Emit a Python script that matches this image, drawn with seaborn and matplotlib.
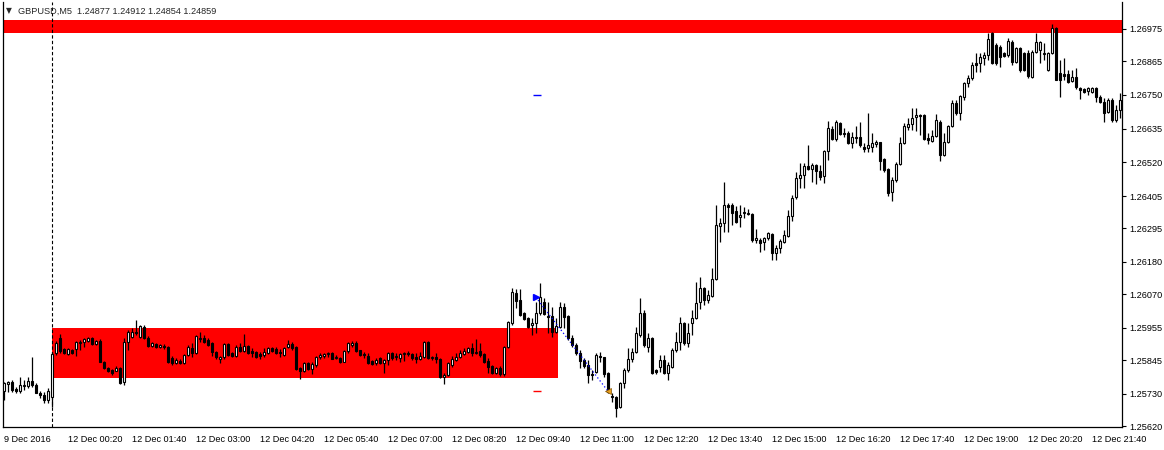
import pandas as pd
import matplotlib
matplotlib.use('Agg')
import matplotlib.pyplot as plt
import seaborn as sns

# GBPUSD M5 candles, prices in points (1 point = 0.00001)
POINT = 1e-5

opens_pts = [
    125740, 125763, 125770, 125746, 125740, 125757, 125757, 125774, 125760, 125733,
    125726, 125709, 125719, 125869, 125921, 125883, 125865, 125879, 125883, 125904,
    125907, 125911, 125921, 125900, 125911, 125838, 125818, 125811, 125808, 125818,
    125770, 125907, 125924, 125941, 125924, 125958, 125921, 125893, 125900, 125890,
    125893, 125890, 125852, 125835, 125842, 125835, 125862, 125887, 125869, 125917,
    125921, 125914, 125904, 125872, 125848, 125855, 125900, 125869, 125859, 125890,
    125876, 125893, 125876, 125872, 125865, 125862, 125869, 125887, 125883, 125872,
    125862, 125890, 125900, 125890, 125818, 125808, 125835, 125814, 125828, 125855,
    125859, 125865, 125869, 125852, 125852, 125838, 125876, 125897, 125904, 125879,
    125865, 125859, 125842, 125835, 125852, 125835, 125845, 125869, 125855, 125852,
    125865, 125869, 125865, 125855, 125848, 125855, 125907, 125852, 125855, 125848,
    125787, 125794, 125828, 125845, 125855, 125865, 125872, 125887, 125869, 125876,
    125865, 125842, 125825, 125801, 125818, 125797, 125890, 125972, 126074, 126050,
    126006, 125989, 125965, 125972, 126006, 126043, 125996, 125996, 125941, 125958,
    126026, 125996, 125921, 125897, 125869, 125845, 125828, 125797, 125804, 125859,
    125855, 125801, 125723, 125719, 125685, 125767, 125811, 125848, 125872, 125931,
    126006, 125890, 125921, 125811, 125821, 125845, 125801, 125821, 125879, 125907,
    125972, 125904, 125972, 125989, 126043, 126091, 126050, 126064, 126121, 126303,
    126313, 126374, 126374, 126354, 126333, 126347, 126343, 126343, 126255, 126255,
    126248, 126262, 126275, 126211, 126228, 126248, 126268, 126337, 126402, 126467,
    126477, 126508, 126497, 126511, 126491, 126474, 126559, 126634, 126599, 126654,
    126620, 126620, 126586, 126606, 126606, 126572, 126569, 126572, 126582, 126589,
    126531, 126497, 126419, 126460, 126514, 126586, 126640, 126651, 126674, 126681,
    126681, 126603, 126593, 126610, 126657, 126545, 126589, 126644, 126723, 126688,
    126743, 126791, 126808, 126859, 126859, 126876, 126886, 126961, 126920, 126913,
    126893, 126886, 126930, 126862, 126910, 126893, 126893, 126811, 126896, 126903,
    126889, 126835, 126893, 126978, 126825, 126821, 126821, 126798, 126811, 126774,
    126770, 126763, 126760, 126774, 126743, 126726, 126691, 126733, 126664, 126699,
]

highs_pts = [
    125770, 125774, 125777, 125753, 125787, 125777, 125787, 125855, 125767, 125740,
    125736, 125750, 125872, 125911, 125934, 125887, 125887, 125883, 125911, 125914,
    125921, 125924, 125924, 125914, 125917, 125842, 125821, 125814, 125825, 125821,
    125921, 125948, 125955, 125982, 125965, 125965, 125928, 125907, 125904, 125900,
    125900, 125893, 125859, 125852, 125848, 125865, 125897, 125904, 125931, 125941,
    125931, 125921, 125907, 125876, 125859, 125904, 125904, 125872, 125897, 125904,
    125934, 125897, 125887, 125876, 125872, 125887, 125890, 125890, 125890, 125883,
    125890, 125914, 125907, 125893, 125821, 125838, 125838, 125838, 125859, 125869,
    125869, 125872, 125872, 125862, 125855, 125879, 125907, 125911, 125911, 125879,
    125872, 125869, 125845, 125852, 125855, 125848, 125872, 125872, 125869, 125869,
    125872, 125876, 125869, 125869, 125872, 125911, 125911, 125859, 125869, 125852,
    125801, 125838, 125859, 125869, 125879, 125887, 125890, 125904, 125917, 125904,
    125869, 125852, 125828, 125821, 125825, 125893, 125979, 126091, 126087, 126087,
    126009, 125992, 125989, 126043, 126108, 126057, 126043, 126026, 125989, 126043,
    126040, 125999, 125931, 125904, 125879, 125852, 125845, 125811, 125869, 125872,
    125855, 125804, 125733, 125723, 125770, 125818, 125887, 125887, 125958, 126057,
    126016, 125938, 125924, 125814, 125862, 125862, 125838, 125887, 125941, 125992,
    125975, 125972, 126016, 126111, 126129, 126094, 126084, 126160, 126374, 126330,
    126453, 126381, 126381, 126371, 126374, 126367, 126360, 126347, 126292, 126262,
    126265, 126282, 126279, 126238, 126258, 126289, 126357, 126409, 126487, 126518,
    126518, 126579, 126518, 126514, 126511, 126562, 126661, 126644, 126664, 126657,
    126637, 126627, 126623, 126644, 126657, 126586, 126689, 126620, 126596, 126589,
    126535, 126501, 126470, 126521, 126606, 126654, 126671, 126705, 126705, 126685,
    126685, 126620, 126630, 126685, 126664, 126620, 126647, 126733, 126733, 126750,
    126794, 126818, 126862, 126893, 126893, 126896, 126961, 126965, 126927, 126920,
    126896, 126944, 126937, 126913, 126913, 126896, 126903, 126903, 126961, 126934,
    126927, 126896, 126992, 126982, 126869, 126876, 126835, 126835, 126842, 126777,
    126774, 126777, 126777, 126777, 126750, 126740, 126740, 126740, 126716, 126757,
]

lows_pts = [
    125709, 125736, 125736, 125733, 125733, 125743, 125750, 125753, 125733, 125716,
    125699, 125699, 125685, 125862, 125869, 125865, 125862, 125865, 125859, 125879,
    125890, 125907, 125897, 125897, 125838, 125814, 125804, 125794, 125808, 125763,
    125760, 125879, 125921, 125931, 125921, 125917, 125890, 125890, 125887, 125887,
    125883, 125835, 125828, 125831, 125831, 125831, 125859, 125855, 125865, 125907,
    125904, 125893, 125859, 125848, 125835, 125848, 125859, 125855, 125855, 125872,
    125872, 125865, 125855, 125852, 125848, 125855, 125865, 125872, 125865, 125855,
    125859, 125887, 125879, 125811, 125780, 125804, 125811, 125797, 125821, 125848,
    125852, 125855, 125848, 125848, 125835, 125838, 125869, 125890, 125872, 125859,
    125852, 125831, 125828, 125828, 125831, 125801, 125828, 125845, 125845, 125838,
    125842, 125859, 125845, 125835, 125845, 125852, 125848, 125845, 125835, 125784,
    125763, 125791, 125821, 125842, 125852, 125862, 125869, 125859, 125865, 125855,
    125835, 125801, 125797, 125797, 125791, 125791, 125887, 125965, 126023, 125996,
    125982, 125955, 125931, 125938, 125999, 125999, 125938, 125924, 125938, 125955,
    125955, 125914, 125890, 125862, 125818, 125818, 125767, 125777, 125801, 125838,
    125787, 125733, 125702, 125651, 125682, 125750, 125804, 125838, 125869, 125924,
    125890, 125872, 125797, 125797, 125804, 125797, 125777, 125818, 125872, 125879,
    125897, 125890, 125931, 125985, 126019, 126033, 126040, 126060, 126118, 126248,
    126282, 126282, 126306, 126313, 126299, 126330, 126340, 126248, 126245, 126214,
    126221, 126255, 126187, 126187, 126211, 126245, 126265, 126320, 126395, 126433,
    126433, 126494, 126453, 126446, 126460, 126450, 126528, 126596, 126593, 126613,
    126606, 126582, 126569, 126586, 126572, 126555, 126555, 126555, 126572, 126494,
    126487, 126405, 126388, 126453, 126511, 126582, 126630, 126630, 126627, 126613,
    126596, 126582, 126589, 126606, 126525, 126541, 126586, 126640, 126681, 126664,
    126733, 126777, 126801, 126828, 126828, 126852, 126869, 126855, 126852, 126845,
    126879, 126879, 126852, 126859, 126828, 126831, 126808, 126808, 126893, 126859,
    126869, 126831, 126889, 126801, 126743, 126801, 126791, 126794, 126770, 126736,
    126757, 126750, 126757, 126726, 126723, 126657, 126688, 126657, 126657, 126671,
]

closes_pts = [
    125767, 125770, 125743, 125740, 125760, 125760, 125774, 125760, 125733, 125726,
    125709, 125740, 125865, 125904, 125876, 125869, 125883, 125869, 125907, 125907,
    125917, 125921, 125900, 125911, 125838, 125818, 125808, 125801, 125818, 125767,
    125907, 125941, 125941, 125938, 125962, 125921, 125893, 125904, 125890, 125897,
    125890, 125838, 125835, 125845, 125835, 125862, 125890, 125869, 125928, 125921,
    125907, 125897, 125872, 125855, 125855, 125900, 125862, 125859, 125890, 125876,
    125893, 125869, 125869, 125855, 125859, 125872, 125887, 125876, 125869, 125869,
    125887, 125900, 125887, 125814, 125808, 125835, 125814, 125831, 125855, 125862,
    125865, 125869, 125848, 125855, 125838, 125876, 125904, 125904, 125876, 125862,
    125862, 125835, 125831, 125845, 125835, 125845, 125869, 125852, 125859, 125865,
    125869, 125865, 125852, 125848, 125859, 125907, 125852, 125855, 125848, 125787,
    125794, 125835, 125848, 125855, 125869, 125876, 125887, 125869, 125872, 125862,
    125838, 125821, 125801, 125818, 125797, 125890, 125975, 126077, 126047, 125999,
    125985, 125958, 125972, 126006, 126060, 126002, 125992, 125941, 125962, 126026,
    125992, 125921, 125897, 125869, 125842, 125825, 125794, 125794, 125862, 125855,
    125797, 125736, 125719, 125682, 125767, 125811, 125848, 125872, 125938, 126006,
    125897, 125921, 125801, 125804, 125845, 125801, 125828, 125879, 125907, 125972,
    125904, 125938, 125989, 126040, 126091, 126050, 126067, 126121, 126306, 126313,
    126374, 126367, 126347, 126316, 126340, 126350, 126347, 126255, 126262, 126245,
    126262, 126279, 126211, 126228, 126252, 126272, 126337, 126399, 126467, 126477,
    126508, 126497, 126511, 126491, 126470, 126559, 126637, 126599, 126657, 126616,
    126616, 126586, 126606, 126603, 126579, 126565, 126579, 126586, 126589, 126525,
    126494, 126416, 126460, 126514, 126586, 126644, 126651, 126671, 126681, 126678,
    126599, 126596, 126610, 126664, 126545, 126589, 126644, 126723, 126688, 126746,
    126791, 126808, 126852, 126852, 126879, 126886, 126941, 126859, 126859, 126879,
    126883, 126934, 126862, 126910, 126835, 126835, 126815, 126896, 126930, 126930,
    126893, 126893, 126978, 126801, 126801, 126815, 126794, 126811, 126777, 126767,
    126760, 126774, 126774, 126743, 126726, 126688, 126733, 126664, 126699, 126733,
]

# 9 Dec 23:00..23:55, then 12 Dec from 00:00
times = pd.date_range('2016-12-09 23:00', periods=12, freq='5min').append(
    pd.date_range('2016-12-12 00:00', periods=268, freq='5min'))

header_text = 'GBPUSD,M5  1.24877 1.24912 1.24854 1.24859'
price_ticks = [1.26975, 1.26865, 1.26750, 1.26635, 1.26520, 1.26405, 1.26295,
               1.26180, 1.26070, 1.25955, 1.25845, 1.25730, 1.25620]

# drawn objects
top_zone = (1.26961, 1.27006)
range_zone = (1.25784, 1.25955)
range_zone_times = ('2016-12-12 00:00', '2016-12-12 10:30')
trade_open = ('2016-12-12 10:05', 1.26060)
trade_close = ('2016-12-12 11:35', 1.25740)
trade_tp = 1.26750
trade_sl = 1.25740

df = pd.DataFrame({
    'time': times,
    'open': [v * POINT for v in opens_pts],
    'high': [v * POINT for v in highs_pts],
    'low': [v * POINT for v in lows_pts],
    'close': [v * POINT for v in closes_pts],
})
df['idx'] = range(len(df))
df['bull'] = df['close'] >= df['open']

sns.set_style('white')
plt.rcParams['font.family'] = ['Liberation Sans', 'DejaVu Sans']

fig = plt.figure(figsize=(11.64, 4.5), dpi=100)
ax = fig.add_axes([3 / 1164, 23 / 450, 1119 / 1164, 425 / 450])

def bar_of(t):
    return df.index[df['time'] == pd.Timestamp(t)][0]

# zones
ax.axhspan(top_zone[0], top_zone[1], color='#ff0000', lw=0, zorder=0)
ax.fill_between([bar_of(range_zone_times[0]), bar_of(range_zone_times[1]) + 0.5],
                range_zone[0], range_zone[1], color='#ff0000', lw=0, zorder=0)

# period separator
ax.axvline(bar_of('2016-12-12 00:00'), color='black', lw=0.8, ls=(0, (3, 2)), zorder=1)

# candles
ax.vlines(df['idx'], df['low'], df['high'], color='black', lw=0.9, zorder=2)
body_bottom = df[['open', 'close']].min(axis=1)
body_height = (df['close'] - df['open']).abs()
ax.bar(df['idx'], body_height, bottom=body_bottom, width=0.55,
       color=['white' if b else 'black' for b in df['bull']],
       edgecolor='black', linewidth=0.8, zorder=3)

# trade
o_bar, c_bar = bar_of(trade_open[0]), bar_of(trade_close[0])
ax.plot([o_bar, c_bar], [trade_open[1], trade_close[1]], color='blue', lw=0.9,
        ls=(0, (1, 2)), zorder=4)
ax.plot(o_bar, trade_open[1], marker='>', color='blue', ms=4.5, zorder=5)
ax.plot(c_bar, trade_close[1], marker='<', color='#e8a020', mec='#805000',
        mew=0.5, ms=5, zorder=5)
ax.hlines(trade_tp, o_bar - 0.6, o_bar + 1.2, color='blue', lw=1, zorder=4)
ax.hlines(trade_sl, o_bar - 0.6, o_bar + 1.2, color='red', lw=1, zorder=4)

ax.set_xlim(-0.2, 279.55)
ax.set_ylim(1.25617, 1.27067)

# axes
xt = list(range(0, len(df), 16))
xl = [df['time'][i].strftime('%-d %b %Y') if i == 0 else
      df['time'][i].strftime('%-d %b %H:%M') for i in xt]
ax.set_xticks(xt)
ax.set_xticklabels(xl, ha='left')
ax.yaxis.tick_right()
ax.set_yticks(price_ticks)
ax.set_yticklabels([f'{p:.5f}' for p in price_ticks])
ax.tick_params(axis='both', direction='out', length=3, width=0.8,
               labelsize=6.6, colors='black', pad=2)
ax.tick_params(axis='x', pad=3)
for lab in ax.get_xticklabels():
    lab.set_x(lab.get_position()[0])

for s in ['left', 'right', 'bottom']:
    ax.spines[s].set_visible(True)
    ax.spines[s].set_color('black')
    ax.spines[s].set_linewidth(0.9)
ax.spines['top'].set_visible(False)
ax.set_xlabel('')
ax.set_ylabel('')

fig.text(6 / 1164, 1 - 11 / 450, '▼', fontsize=5.5, va='center', ha='left',
         family=['DejaVu Sans'])
fig.text(18 / 1164, 1 - 11 / 450, header_text, fontsize=6.6, va='center', ha='left')

fig.savefig('out.png', dpi=100, facecolor='white')
